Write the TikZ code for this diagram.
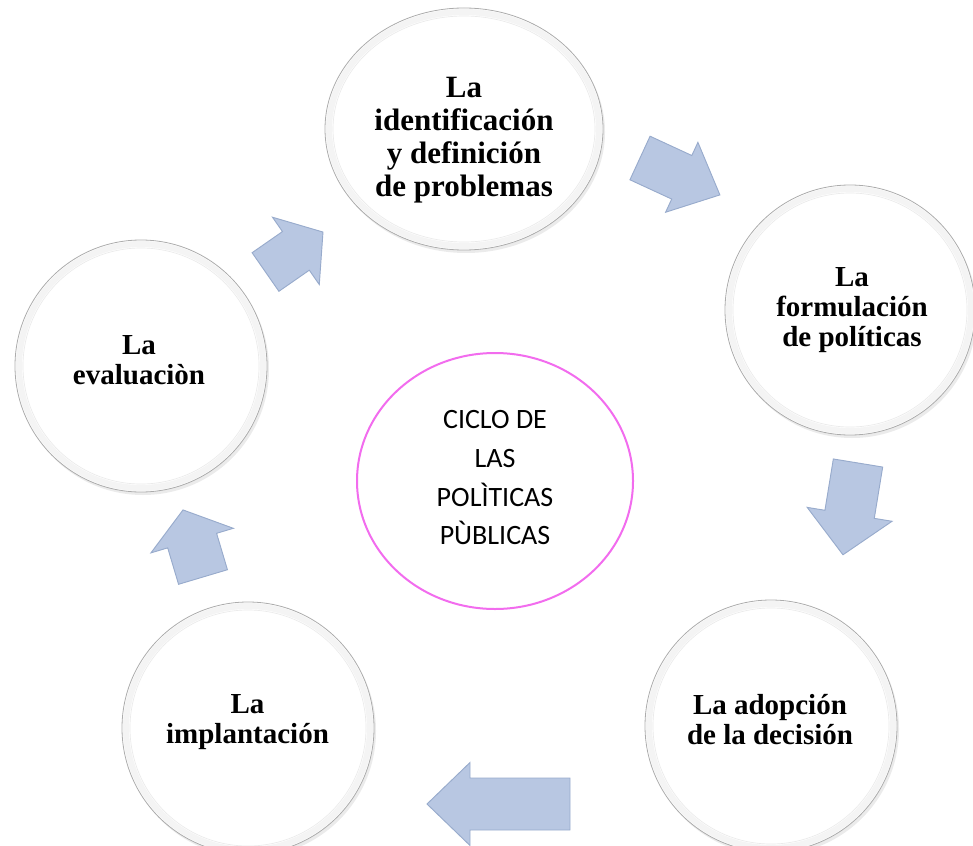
\documentclass[tikz,border=0pt]{standalone}
\usepackage{fontspec}
\setmainfont{Liberation Serif}
\newfontfamily\calfont{Carlito}
\usetikzlibrary{shapes.geometric}
\definecolor{arrowfill}{RGB}{184,199,226}
\definecolor{arrowedge}{RGB}{152,171,204}
\definecolor{ringmag}{RGB}{242,108,238}
\newcommand{\blockarr}[8]{% name, x, y, angle, length, shaft width, head width, head length
  \coordinate (#1) at (#2,#3);
  \path[arrowbox, shift={(#1)}, rotate=#4]
    (0,-#6/2) -- (#5-#8,-#6/2) -- (#5-#8,-#7/2) -- (#5,0) -- (#5-#8,#7/2) -- (#5-#8,#6/2) -- (0,#6/2) -- cycle;
}
\begin{document}
\begin{tikzpicture}[x=0.75pt,y=-0.75pt,
  bubble/.style={circle, draw=gray!65, line width=0.6pt, fill=white, minimum size=189pt, inner sep=0pt},
  bubbletop/.style={ellipse, draw=gray!65, line width=0.6pt, fill=white, minimum width=208.5pt, minimum height=181.5pt, inner sep=0pt},
  shadowc/.style={fill=black!8},
  rim/.style={draw=gray!9, line width=4.5pt},
  bevel/.style={draw=gray!16, line width=0.5pt},
  lbl/.style={font=\fontsize{21.75}{22.5}\selectfont\bfseries, align=center, inner sep=0pt},
  lbltop/.style={font=\fontsize{23.25}{24.75}\selectfont\bfseries, align=center, inner sep=0pt},
  arrowbox/.style={fill=arrowfill, draw=arrowedge, line width=0.7pt, line join=miter},
  centre/.style={ellipse, draw=ringmag, line width=1.5pt, fill=white, minimum width=207pt, minimum height=192pt, inner sep=0pt}
]
\useasboundingbox (0,0) rectangle (973,845);
\clip (0,0) rectangle (973,845);

% shadows
\fill[shadowc] (466,132) ellipse[x radius=139, y radius=121];
\fill[shadowc] (852,313) circle[radius=125];
\fill[shadowc] (773,729) circle[radius=126];
\fill[shadowc] (250,731) circle[radius=126];
\fill[shadowc] (143,369) circle[radius=126];

% bubbles
\node[bubbletop] (c1) at (464,129) {};
\node[bubble, minimum size=187.5pt] (c2) at (850,310) {};
\node[bubble] (c3) at (771,726) {};
\node[bubble] (c4) at (248,728) {};
\node[bubble] (c5) at (141,366) {};

% rim and bevel
\draw[rim] (c1.center) ellipse[x radius=135, y radius=117];
\draw[bevel] (c1.center) ellipse[x radius=131, y radius=113];
\foreach \c/\r in {c2/125, c3/126, c4/126, c5/126}{
  \draw[rim] (\c.center) circle[radius=\r-4];
  \draw[bevel] (\c.center) circle[radius=\r-8];
}

% block arrows
\blockarr{a1}{640}{158}{-24.8}{88}{48}{77}{42}
\blockarr{a2}{858}{463}{-99.3}{93}{50}{86}{41}
\blockarr{a3}{570}{804}{180}{143}{52}{83}{43}
\blockarr{a4}{203}{577}{106.6}{70}{51}{86}{32}
\blockarr{a5}{265.5}{272}{34.8}{70}{47}{82}{33}

% centre
\node[centre] (m) at (495,481) {};

% texts
\node[lbltop] (t1) at (464,140) {La\\identificación\\y definición\\de problemas};
\node[lbl] (t2) at (852,310) {La\\formulación\\de políticas};
\node[lbl] (t3) at (770,720) {La adopción\\de la decisión};
\node[lbl] (t4) at (247.5,722) {La\\implantación};
\node[lbl] (t5) at (139,360) {La\\evaluaciòn};
\node[font=\calfont\fontsize{21}{29}\selectfont, align=center, inner sep=0pt] (tm) at (495,478) {CICLO DE\\LAS\\POLÌTICAS\\PÙBLICAS};
\end{tikzpicture}
\end{document}
